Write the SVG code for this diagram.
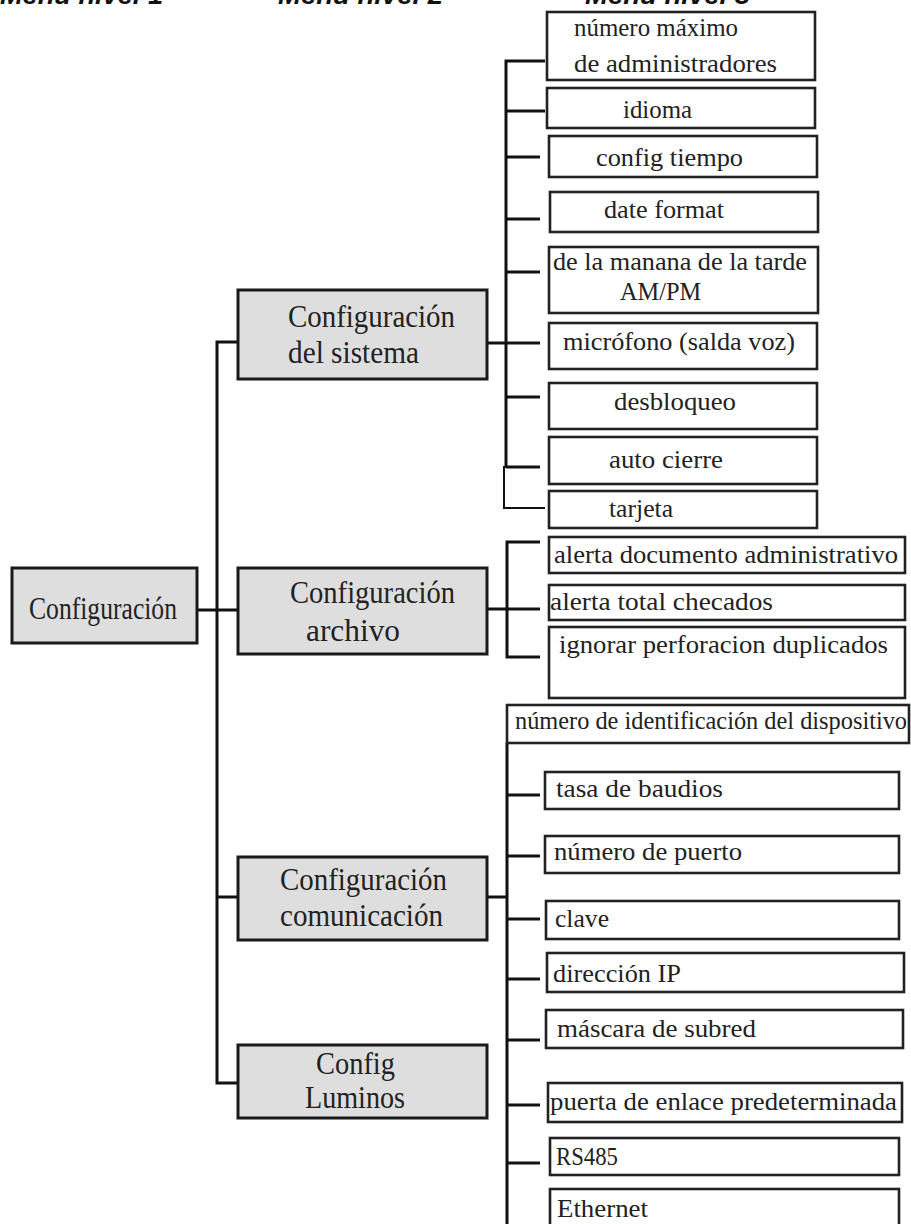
<svg xmlns="http://www.w3.org/2000/svg" width="911" height="1224" viewBox="0 0 911 1224">
<style>
.hdr{font-family:"Liberation Sans",Arial,sans-serif;font-weight:bold;font-style:italic;font-size:26px;fill:#111}
.b1{fill:#dedede;stroke:#1a1a1a;stroke-width:3}
.b3{fill:#fff;stroke:#222;stroke-width:2.6}
.t1{font-family:"Liberation Serif","Times New Roman",serif;font-size:31px;fill:#222}
.t3{font-family:"Liberation Serif","Times New Roman",serif;font-size:25px;fill:#222}
.ln{fill:none;stroke:#111;stroke-width:3}
.lnt{fill:none;stroke:#111;stroke-width:2}
</style>
<rect width="911" height="1224" fill="#fff"/>
<g id="header">
<text class="hdr" x="0" y="4" textLength="163" lengthAdjust="spacingAndGlyphs">Menu nivel 1</text>
<text class="hdr" x="278" y="4" textLength="165" lengthAdjust="spacingAndGlyphs">Menu nivel 2</text>
<text class="hdr" x="585" y="4" textLength="165" lengthAdjust="spacingAndGlyphs">Menu nivel 3</text>
</g>
<g id="connectors">
<path class="ln" d="M197 610 H237"/>
<path class="ln" d="M237 342 H217 V1083 H237"/>
<path class="ln" d="M217 897 H237"/>
<path class="ln" d="M487 343 H506"/>
<path class="ln" d="M545 61 H506 V467"/>
<path class="lnt" d="M506 467 H504 V508 H545"/>
<path class="ln" d="M506 111 H545 M506 157 H540 M506 219 H540 M506 272 H540 M506 343 H540 M506 397 H540 M506 467 H540"/>
<path class="ln" d="M540 542 H507 V657 H540"/>
<path class="ln" d="M487 609 H540"/>
<path class="ln" d="M507 743 V1224"/>
<path class="ln" d="M487 897 H507"/>
<path class="ln" d="M507 795 H540 M507 856 H540 M507 919 H540 M507 979 H540 M507 1040 H540 M507 1105 H540 M507 1163 H540"/>
</g>
<g id="n-config">
<rect class="b1" x="12" y="568" width="185" height="75"/>
<text class="t1" x="29" y="619" textLength="148" lengthAdjust="spacingAndGlyphs">Configuración</text>
</g>
<g id="n-sistema">
<rect class="b1" x="238" y="290" width="249" height="89"/>
<text class="t1" x="288" y="327" textLength="167" lengthAdjust="spacingAndGlyphs">Configuración</text>
<text class="t1" x="288" y="363" textLength="131" lengthAdjust="spacingAndGlyphs">del sistema</text>
</g>
<g id="n-archivo">
<rect class="b1" x="238" y="568" width="249" height="86"/>
<text class="t1" x="290" y="603" textLength="165" lengthAdjust="spacingAndGlyphs">Configuración</text>
<text class="t1" x="306" y="641" textLength="94" lengthAdjust="spacingAndGlyphs">archivo</text>
</g>
<g id="n-comunicacion">
<rect class="b1" x="238" y="857" width="249" height="83"/>
<text class="t1" x="280" y="890" textLength="167" lengthAdjust="spacingAndGlyphs">Configuración</text>
<text class="t1" x="280" y="926" textLength="163" lengthAdjust="spacingAndGlyphs">comunicación</text>
</g>
<g id="n-luminos">
<rect class="b1" x="238" y="1045" width="249" height="73"/>
<text class="t1" x="316" y="1074" textLength="79" lengthAdjust="spacingAndGlyphs">Config</text>
<text class="t1" x="305" y="1108" textLength="100" lengthAdjust="spacingAndGlyphs">Luminos</text>
</g>
<g id="n-max-admin">
<rect class="b3" x="547" y="12" width="268" height="68"/>
<text class="t3" x="574" y="36" textLength="164" lengthAdjust="spacingAndGlyphs">número máximo</text>
<text class="t3" x="574" y="72" textLength="203" lengthAdjust="spacingAndGlyphs">de administradores</text>
</g>
<g id="n-idioma">
<rect class="b3" x="547" y="88" width="268" height="40"/>
<text class="t3" x="623" y="118" textLength="69" lengthAdjust="spacingAndGlyphs">idioma</text>
</g>
<g id="n-tiempo">
<rect class="b3" x="549" y="136" width="268" height="41"/>
<text class="t3" x="596" y="166" textLength="147" lengthAdjust="spacingAndGlyphs">config tiempo</text>
</g>
<g id="n-date">
<rect class="b3" x="550" y="192" width="268" height="40"/>
<text class="t3" x="604" y="218" textLength="120" lengthAdjust="spacingAndGlyphs">date format</text>
</g>
<g id="n-ampm">
<rect class="b3" x="549" y="247" width="269" height="66"/>
<text class="t3" x="553" y="270" textLength="254" lengthAdjust="spacingAndGlyphs">de la manana de la tarde</text>
<text class="t3" x="620" y="300" textLength="81" lengthAdjust="spacingAndGlyphs">AM/PM</text>
</g>
<g id="n-microfono">
<rect class="b3" x="549" y="323" width="268" height="46"/>
<text class="t3" x="563" y="350" textLength="232" lengthAdjust="spacingAndGlyphs">micrófono (salda voz)</text>
</g>
<g id="n-desbloqueo">
<rect class="b3" x="549" y="383" width="268" height="46"/>
<text class="t3" x="614" y="410" textLength="122" lengthAdjust="spacingAndGlyphs">desbloqueo</text>
</g>
<g id="n-autocierre">
<rect class="b3" x="549" y="437" width="268" height="47"/>
<text class="t3" x="609" y="468" textLength="114" lengthAdjust="spacingAndGlyphs">auto cierre</text>
</g>
<g id="n-tarjeta">
<rect class="b3" x="549" y="491" width="268" height="37"/>
<text class="t3" x="609" y="517" textLength="64" lengthAdjust="spacingAndGlyphs">tarjeta</text>
</g>
<g id="n-alerta-doc">
<rect class="b3" x="549" y="537" width="356" height="36"/>
<text class="t3" x="554" y="563" textLength="344" lengthAdjust="spacingAndGlyphs">alerta documento administrativo</text>
</g>
<g id="n-alerta-total">
<rect class="b3" x="549" y="585" width="356" height="35"/>
<text class="t3" x="550" y="610" textLength="223" lengthAdjust="spacingAndGlyphs">alerta total checados</text>
</g>
<g id="n-ignorar">
<rect class="b3" x="549" y="627" width="356" height="71"/>
<text class="t3" x="559" y="653" textLength="329" lengthAdjust="spacingAndGlyphs">ignorar perforacion duplicados</text>
</g>
<g id="n-id-disp">
<rect class="b3" x="507" y="705" width="402" height="38" stroke-width="2"/>
<text class="t3" x="515" y="729" textLength="392" lengthAdjust="spacingAndGlyphs" font-size="24">número de identificación del dispositivo</text>
</g>
<g id="n-baudios">
<rect class="b3" x="545" y="772" width="354" height="37"/>
<text class="t3" x="556" y="797" textLength="167" lengthAdjust="spacingAndGlyphs">tasa de baudios</text>
</g>
<g id="n-puerto">
<rect class="b3" x="545" y="836" width="354" height="37"/>
<text class="t3" x="554" y="860" textLength="188" lengthAdjust="spacingAndGlyphs">número de puerto</text>
</g>
<g id="n-clave">
<rect class="b3" x="546" y="901" width="353" height="38"/>
<text class="t3" x="555" y="927" textLength="54" lengthAdjust="spacingAndGlyphs">clave</text>
</g>
<g id="n-ip">
<rect class="b3" x="547" y="953" width="357" height="39"/>
<text class="t3" x="553" y="982" textLength="128" lengthAdjust="spacingAndGlyphs">dirección IP</text>
</g>
<g id="n-mascara">
<rect class="b3" x="546" y="1010" width="357" height="38"/>
<text class="t3" x="557" y="1037" textLength="199" lengthAdjust="spacingAndGlyphs">máscara de subred</text>
</g>
<g id="n-puerta">
<rect class="b3" x="548" y="1083" width="354" height="39"/>
<text class="t3" x="550" y="1110" textLength="347" lengthAdjust="spacingAndGlyphs">puerta de enlace predeterminada</text>
</g>
<g id="n-rs485">
<rect class="b3" x="550" y="1138" width="349" height="37"/>
<text class="t3" x="556" y="1165" textLength="62" lengthAdjust="spacingAndGlyphs">RS485</text>
</g>
<g id="n-ethernet">
<rect class="b3" x="550" y="1189" width="349" height="50"/>
<text class="t3" x="557" y="1217" textLength="91" lengthAdjust="spacingAndGlyphs">Ethernet</text>
</g>
</svg>
